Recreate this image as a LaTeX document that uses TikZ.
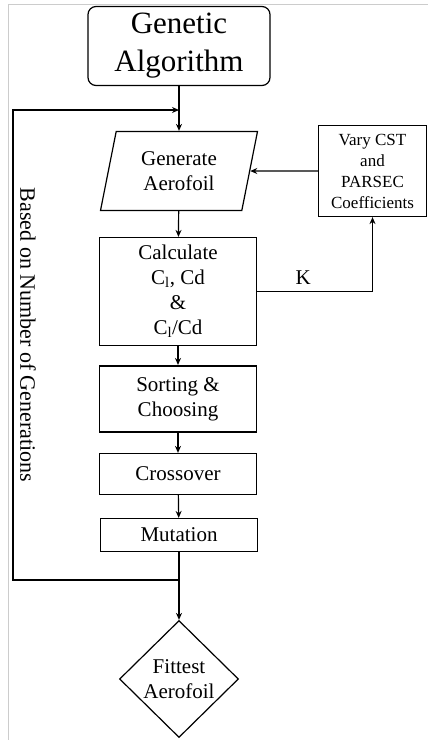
\documentclass[tikz,border=0pt]{standalone}
\usepackage{fontspec}
\setmainfont{Liberation Serif}
\usetikzlibrary{positioning,shapes.geometric,arrows.meta}

\begin{document}
\begin{tikzpicture}[x=1pt,y=-1pt,
    every node/.style={font=\fontsize{21}{25}\selectfont, align=center},
    block/.style={draw, rectangle, line width=1.2pt, minimum width=157pt, inner sep=2pt},
    io/.style={draw, trapezium, trapezium left angle=70, trapezium right angle=110,
        trapezium stretches body, line width=1.2pt, minimum width=157pt, minimum height=79pt, inner sep=2pt},
    decide/.style={draw, diamond, line width=1.2pt, minimum width=119pt, minimum height=117pt, inner sep=0pt},
    arr/.style={draw, line width=1.2pt, -{Stealth[length=7pt,width=6pt]}}]
    \useasboundingbox (0,0) rectangle (428,740);
    % faint frame
    \draw[gray!40, line width=1pt] (8,740) |- (428,4);

    \node[block, rounded corners=8pt, minimum width=182pt, minimum height=79pt,
        font=\fontsize{31}{38}\selectfont] (ga) at (179,46) {Genetic\\Algorithm};
    \node[io] (gen) at (179,171) {Generate\\Aerofoil};
    \node[block, minimum height=108pt] (calc) at (178,291.5)
        {Calculate\\C\textsubscript{l}, Cd\\\&\\C\textsubscript{l}/Cd};
    \node[block, line width=1.6pt, minimum height=66.5pt] (sort) at (178,399) {Sorting \&\\Choosing};
    \node[block, minimum height=41pt] (cross) at (178,474) {Crossover};
    \node[block, minimum height=33pt] (mut) at (179,535) {Mutation};
    \node[decide] (fit) at (179,679) {Fittest\\Aerofoil};
    \node[block, minimum width=108pt, minimum height=91pt, inner sep=1pt,
        font=\fontsize{17}{21}\selectfont] (vary) at (372.5,171) {Vary CST\\and\\PARSEC\\Coefficients};
    \node[rotate=-90, font=\fontsize{22}{26}\selectfont] (gens) at (28,335) {Based on Number of Generations};

    \coordinate (join) at (ga.south |- 0,110);
    \coordinate (split) at (mut.south |- 0,580);
    \coordinate (corner) at (13,580);

    \draw[arr] (ga) -- (gen);
    \draw[arr] (gen) -- (calc);
    \draw[arr] (calc) -- (sort);
    \draw[arr] (sort) -- (cross);
    \draw[arr] (cross) -- (mut);
    \draw[arr] (mut) -- (fit);
    \draw[arr] (split) -- (corner) |- (join);
    \draw[arr] (vary) -- (gen.east);
    \draw[arr] (calc.east) -| node[pos=0.2, above=3pt] {K} (vary.south);
\end{tikzpicture}
\end{document}
